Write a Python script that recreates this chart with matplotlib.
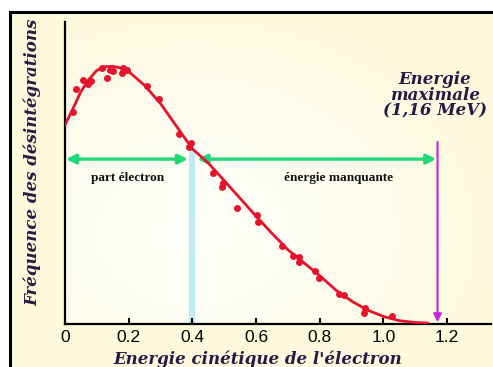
import numpy as np
import matplotlib
matplotlib.use("Agg")
import matplotlib.pyplot as plt
from matplotlib.patches import Rectangle

# courbe lissee
curve_x = [0.0, 0.025, 0.05, 0.075, 0.10, 0.125, 0.15, 0.175, 0.20, 0.25, 0.30, 0.35,
           0.40, 0.45, 0.50, 0.55, 0.60, 0.65, 0.70, 0.75, 0.80, 0.85, 0.90, 0.95,
           1.00, 1.05, 1.10, 1.14]
curve_y = [65.9, 71.3, 77.0, 81.0, 84.0, 85.2, 85.3, 84.8, 83.6, 79.0, 73.0, 65.5,
           58.0, 53.3, 47.5, 41.6, 35.7, 30.0, 24.6, 20.3, 16.0, 11.3, 7.6, 4.6,
           2.5, 1.1, 0.5, 0.3]

# points de mesure
pts_x = [0.024, 0.034, 0.057, 0.073, 0.081, 0.115, 0.131, 0.141, 0.152, 0.178, 0.183,
         0.194, 0.258, 0.294, 0.359, 0.390, 0.395, 0.466, 0.492, 0.497, 0.539, 0.604,
         0.607, 0.682, 0.717, 0.736, 0.736, 0.785, 0.797, 0.860, 0.877, 0.942, 0.939, 1.026]
pts_y = [70.1, 77.7, 80.8, 79.4, 80.5, 84.7, 81.4, 84.1, 83.8, 83.0, 84.7,
         84.1, 78.9, 74.5, 62.8, 58.7, 60.0, 49.9, 45.5, 46.6, 38.3, 36.1,
         33.9, 25.9, 22.6, 22.3, 20.6, 17.6, 15.3, 9.8, 9.6, 5.2, 3.7, 2.6]

xticks = [0.2, 0.4, 0.6, 0.8, 1.0, 1.2]
xtick_labels = ["0.2", "0.4", "0.6", "0.8", "1.0", "1.2"]
e_max = 1.17
arrow_y = 54.6

cream = "#fdf9dc"
dark = "#2a1846"
red = "#e5142c"
green = "#22d878"
purple = "#c424dc"

fig = plt.figure(figsize=(4.93, 3.67), dpi=100, facecolor="white")
fig.patches.append(Rectangle((10 / 493, -0.1), 1.2, 1.1 - 12 / 367,
                             transform=fig.transFigure, facecolor=cream,
                             edgecolor="black", linewidth=2.2, zorder=-10))

ax = fig.add_axes([65 / 493, 1 - 324 / 367, 426 / 493, 302 / 367])
ax.patch.set_alpha(0)
ax.set_xlim(0, 1.338)
ax.set_ylim(0, 100)

# fond degrade blanc -> creme
gx, gy = np.meshgrid(np.linspace(0, 1, 200), np.linspace(0, 1, 200))
r = np.clip(np.hypot((gx - 0.3) / 0.75, (gy - 0.3) / 0.8), 0, 1)
c0 = np.array([1.0, 1.0, 0.975])
c1 = np.array(matplotlib.colors.to_rgb(cream))
img = c0 + (c1 - c0) * (r[..., None] ** 1.5)
ax.imshow(img, extent=[0, 1, 0, 1], transform=ax.transAxes, origin="lower",
          aspect="auto", zorder=0)

ax.fill_between([0.39, 0.408], 0, 58.5, color="#bfeaf8", zorder=1, lw=0)

ax.plot(curve_x, curve_y, color=red, lw=2.0, zorder=4, solid_capstyle="round")
ax.plot(pts_x, pts_y, "o", color=red, ms=5, mec="none", zorder=5)

ax.annotate("", xy=(0.386, arrow_y), xytext=(0.003, arrow_y),
            arrowprops=dict(arrowstyle="<|-|>", color=green, lw=2.4,
                            mutation_scale=14, shrinkA=0, shrinkB=0), zorder=3)
ax.annotate("", xy=(1.166, arrow_y), xytext=(0.416, arrow_y),
            arrowprops=dict(arrowstyle="<|-|>", color=green, lw=2.4,
                            mutation_scale=14, shrinkA=0, shrinkB=0), zorder=3)
ax.annotate("", xy=(e_max, 0.6), xytext=(e_max, 60.3),
            arrowprops=dict(arrowstyle="-|>", color=purple, lw=1.5,
                            mutation_scale=12, shrinkA=0, shrinkB=0), zorder=6)

ax.text(0.198, 48.5, "part électron", ha="center", va="center",
        family="Liberation Serif", weight="bold", fontsize=9.5, color="#111111")
ax.text(0.86, 48.5, "énergie manquante", ha="center", va="center",
        family="Liberation Serif", weight="bold", fontsize=9.5, color="#111111")

for txt, yy in [("Energie", 79), ("maximale", 95), ("(1,16 MeV)", 111)]:
    fig.text(435 / 493, 1 - yy / 367, txt, ha="center", va="center",
             family="DejaVu Serif", style="italic", weight="bold",
             fontsize=12, color=dark)

for s in ["top", "right"]:
    ax.spines[s].set_visible(False)
for s in ["left", "bottom"]:
    ax.spines[s].set_linewidth(1.6)
    ax.spines[s].set_color("black")

ax.set_yticks([])
ax.set_xticks([0] + xticks)
ax.set_xticklabels(["0"] + xtick_labels, family="Liberation Sans", fontsize=12.5)
ax.tick_params(axis="x", direction="in", length=4, width=1.5, pad=4)
ax.xaxis.get_major_ticks()[0].tick1line.set_visible(False)

fig.text(33 / 493, 1 - 162 / 367, "Fréquence des désintégrations", rotation=90,
         ha="center", va="center", family="DejaVu Serif", style="italic",
         weight="bold", fontsize=12, color=dark)
fig.text(258 / 493, 1 - 359 / 367, "Energie cinétique de l'électron",
         ha="center", va="center", family="DejaVu Serif", style="italic",
         weight="bold", fontsize=12, color=dark)

fig.savefig("out.png", dpi=100, facecolor="white")
